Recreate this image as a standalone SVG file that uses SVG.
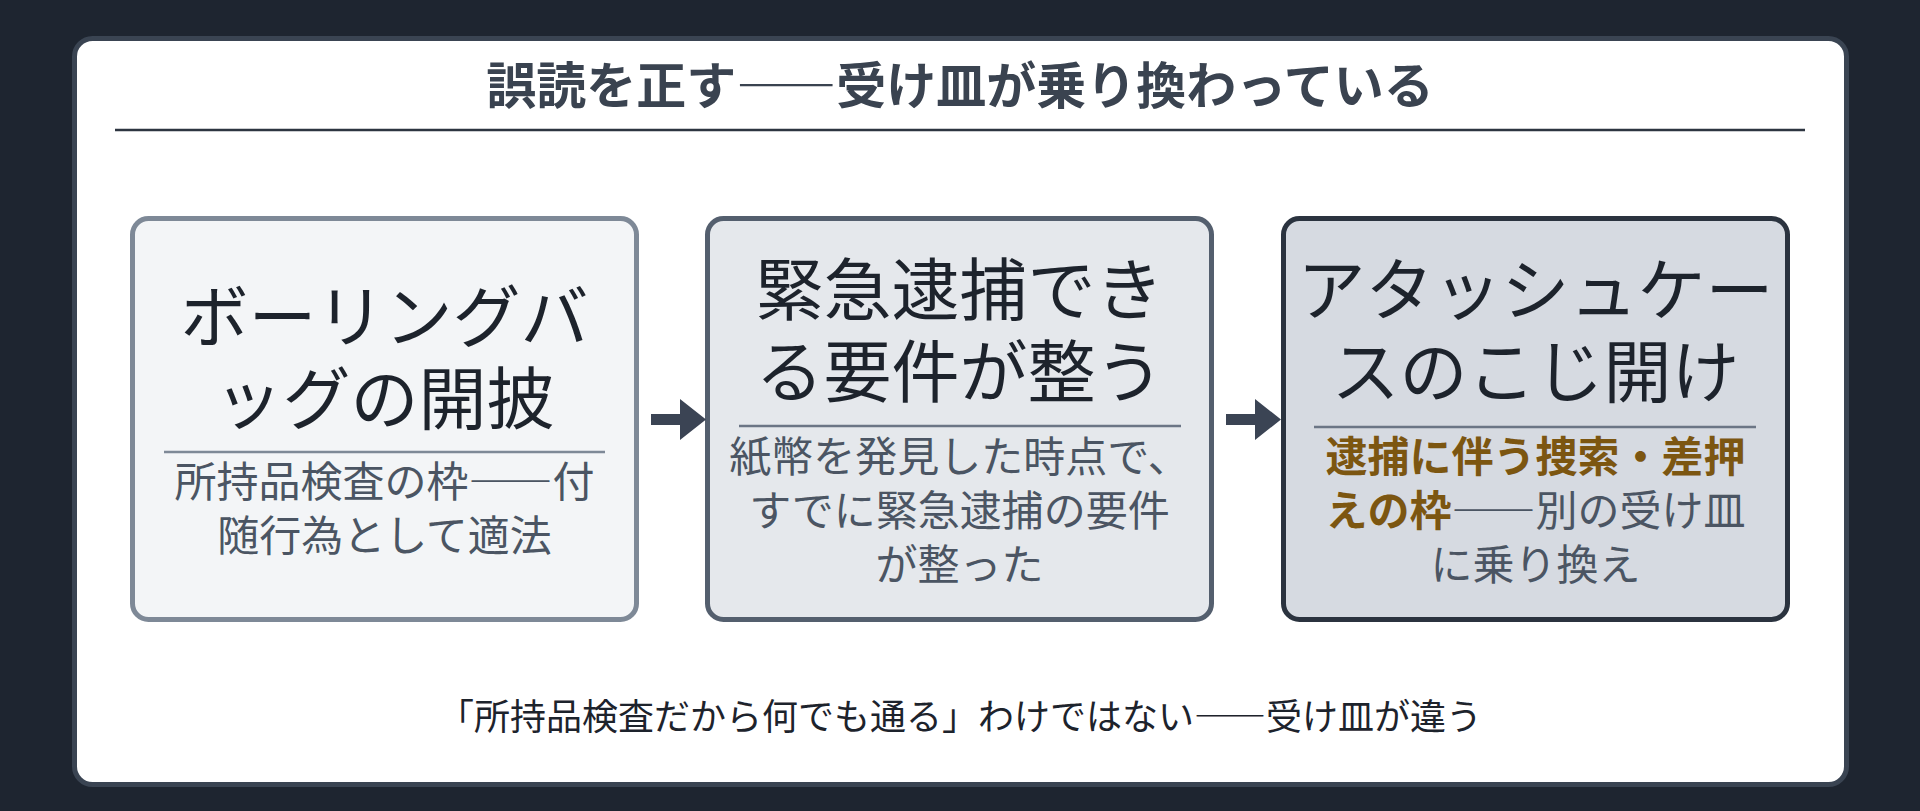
<svg xmlns="http://www.w3.org/2000/svg" width="1920" height="811" viewBox="0 0 1920 811">
<style>
text{font-family:"Noto Sans CJK JP","Noto Sans",sans-serif;text-anchor:middle}
.dash{font-variant-east-asian:full-width;font-feature-settings:"fwid" 1}
.ttl{font-size:50px;font-weight:700;fill:#3a4350}
.nt{font-size:68px;fill:#1d232c}
.st{font-size:42px;fill:#4b5563}
.em{font-weight:700;fill:#7c5611}
.ft{font-size:36px;fill:#1d232c}
.div{stroke-width:2.5}
.arrow{fill:#3b4454}
</style>
<rect x="0" y="0" width="1920" height="811" fill="#1e2530"/>
<rect x="74.5" y="38.5" width="1772" height="746" rx="18" fill="#ffffff" stroke="#3a4452" stroke-width="5"/>
<text class="ttl" x="960" y="104">誤読を正す<tspan class="dash">——</tspan>受け皿が乗り換わっている</text>
<line x1="115" y1="130" x2="1805" y2="130" stroke="#2d3540" stroke-width="2.5"/>

<g id="node1">
<rect x="132.5" y="218.5" width="504" height="401" rx="16" fill="#f3f5f7" stroke="#7e8997" stroke-width="5"/>
<text class="nt" x="384.5" y="342">ボーリングバ</text>
<text class="nt" x="384.5" y="424">ッグの開披</text>
<line class="div" x1="164" y1="452" x2="605" y2="452" stroke="#7e8997"/>
<text class="st" x="384.5" y="497">所持品検査の枠<tspan class="dash">——</tspan>付</text>
<text class="st" x="384.5" y="551">随行為として適法</text>
</g>

<g id="node2">
<rect x="707.5" y="218.5" width="504" height="401" rx="16" fill="#e5e8ec" stroke="#545f6e" stroke-width="5"/>
<text class="nt" x="959.5" y="315">緊急逮捕でき</text>
<text class="nt" x="959.5" y="397">る要件が整う</text>
<line class="div" x1="739" y1="426" x2="1181" y2="426" stroke="#6b7585"/>
<text class="st" x="959.5" y="472">紙幣を発見した時点で、</text>
<text class="st" x="959.5" y="526">すでに緊急逮捕の要件</text>
<text class="st" x="959.5" y="580">が整った</text>
</g>

<g id="node3">
<rect x="1283.5" y="218.5" width="504" height="401" rx="16" fill="#d6dae1" stroke="#2b333f" stroke-width="5"/>
<text class="nt" x="1535.5" y="315">アタッシュケー</text>
<text class="nt" x="1535.5" y="397">スのこじ開け</text>
<line class="div" x1="1314" y1="427" x2="1756" y2="427" stroke="#6b7585"/>
<text class="st em" x="1535.5" y="472">逮捕に伴う捜索・差押</text>
<text class="st" x="1535.5" y="526"><tspan class="em">えの枠</tspan><tspan class="dash">——</tspan>別の受け皿</text>
<text class="st" x="1535.5" y="580">に乗り換え</text>
</g>

<g id="connectors">
<path class="arrow" d="M651 414 H680 V399 L706 419.5 L680 440 V425 H651 Z"/>
<path class="arrow" d="M1226 414 H1255 V399 L1281 419.5 L1255 440 V425 H1226 Z"/>
</g>

<text class="ft" x="960" y="730">「所持品検査だから何でも通る」わけではない<tspan class="dash">——</tspan>受け皿が違う</text>
</svg>
